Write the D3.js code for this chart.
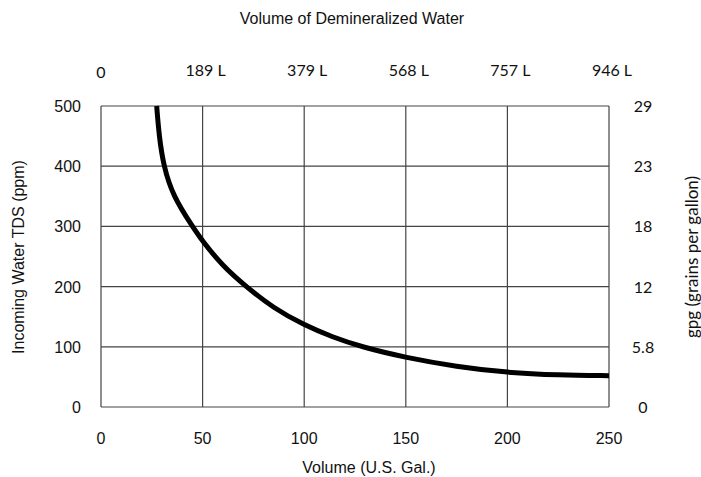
<!DOCTYPE html>
<html lang="en">
  <head>
    <meta charset="utf-8">
    <title>Demineralized water volume</title>
    <script src="https://d3js.org/d3.v7.min.js"></script>
    <style>
      body { margin: 0; background: #fff; }
      .arial { font-family: "Liberation Sans", Arial, sans-serif; fill: #111; }
      .cal { font-family: Lato, "Open Sans", sans-serif; fill: #111; }
    </style>
  </head>
  <body>
    <div id="chart"></div>
    <script>
    // curve: volume (U.S. gal) vs incoming TDS (ppm)
    var volume = [27.4, 28.6, 30.8, 35.5, 45, 50, 60, 71.4, 85, 100, 114, 128, 150, 175, 200, 225, 250];
    var tds    = [500, 450, 400, 350, 300, 275, 234, 200, 164, 136, 116, 100, 82, 67, 57, 53, 52];

    var xTicks = [0, 50, 100, 150, 200, 250];
    var yTicks = [0, 100, 200, 300, 400, 500];
    var litreLabels = ["0", "189 L", "379 L", "568 L", "757 L", "946 L"];
    var gpgLabels = ["0", "5.8", "12", "18", "23", "29"];

    var W = 701, H = 477;
    var margin = {top: 106, right: 92, bottom: 70, left: 101};
    var width = W - margin.left - margin.right,
        height = H - margin.top - margin.bottom;

    var svg = d3.select("#chart").append("svg")
        .attr("width", W)
        .attr("height", H);

    var g = svg.append("g")
        .attr("transform", "translate(" + margin.left + "," + margin.top + ")");

    var x = d3.scaleLinear().domain([0, 250]).range([0, width]);
    var y = d3.scaleLinear().domain([0, 500]).range([height, 0]);

    // grid
    g.selectAll(".vgrid").data(xTicks).enter().append("line")
      .attr("x1", function(d) { return x(d); })
      .attr("x2", function(d) { return x(d); })
      .attr("y1", 0).attr("y2", height)
      .attr("stroke", "#444").attr("stroke-width", 1.2);
    g.selectAll(".hgrid").data(yTicks).enter().append("line")
      .attr("x1", 0).attr("x2", width)
      .attr("y1", function(d) { return y(d); })
      .attr("y2", function(d) { return y(d); })
      .attr("stroke", "#444").attr("stroke-width", 1.2);

    // bottom axis labels
    g.selectAll(".xl").data(xTicks).enter().append("text")
      .attr("class", "arial")
      .attr("x", function(d) { return x(d); })
      .attr("y", height + 37)
      .attr("text-anchor", "middle")
      .style("font-size", "16px")
      .text(function(d) { return d; });

    // left axis labels
    g.selectAll(".yl").data(yTicks).enter().append("text")
      .attr("class", "arial")
      .attr("x", -20)
      .attr("y", function(d) { return y(d) + 6; })
      .attr("text-anchor", "end")
      .style("font-size", "16px")
      .text(function(d) { return d; });

    // top litre labels
    g.selectAll(".tl").data(xTicks).enter().append("text")
      .attr("class", "cal")
      .attr("x", function(d, i) { return x(d) + (i == 0 ? 0 : 3); })
      .attr("y", function(d, i) { return i == 0 ? -28 : -30; })
      .attr("text-anchor", "middle")
      .style("font-size", "16px")
      .text(function(d, i) { return litreLabels[i]; });

    // right gpg labels
    g.selectAll(".rl").data(yTicks).enter().append("text")
      .attr("class", "cal")
      .attr("x", width + 34)
      .attr("y", function(d) { return y(d) + 6; })
      .attr("text-anchor", "middle")
      .style("font-size", "16px")
      .text(function(d, i) { return gpgLabels[i]; });

    // curve (smoothed through the read points)
    var line = d3.line()
      .x(function(d) { return x(d[0]); })
      .y(function(d) { return y(d[1]); })
      .curve(d3.curveBasis);

    g.append("path")
      .datum(volume.map(function(v, i) { return [v, tds[i]]; }))
      .attr("d", line)
      .attr("fill", "none")
      .attr("stroke", "#000")
      .attr("stroke-width", 5);

    // titles
    svg.append("text")
      .attr("class", "arial")
      .attr("x", 352).attr("y", 24)
      .attr("text-anchor", "middle")
      .style("font-size", "16px")
      .text("Volume of Demineralized Water");

    svg.append("text")
      .attr("class", "arial")
      .attr("x", 369).attr("y", 473)
      .attr("text-anchor", "middle")
      .style("font-size", "16px")
      .text("Volume (U.S. Gal.)");

    svg.append("text")
      .attr("class", "arial")
      .attr("transform", "translate(24,257) rotate(-90)")
      .attr("text-anchor", "middle")
      .style("font-size", "16px")
      .text("Incoming Water TDS (ppm)");

    svg.append("text")
      .attr("class", "cal")
      .attr("transform", "translate(698,257) rotate(-90)")
      .attr("text-anchor", "middle")
      .style("font-size", "17px")
      .text("gpg (grains per gallon)");
    </script>
  </body>
</html>
